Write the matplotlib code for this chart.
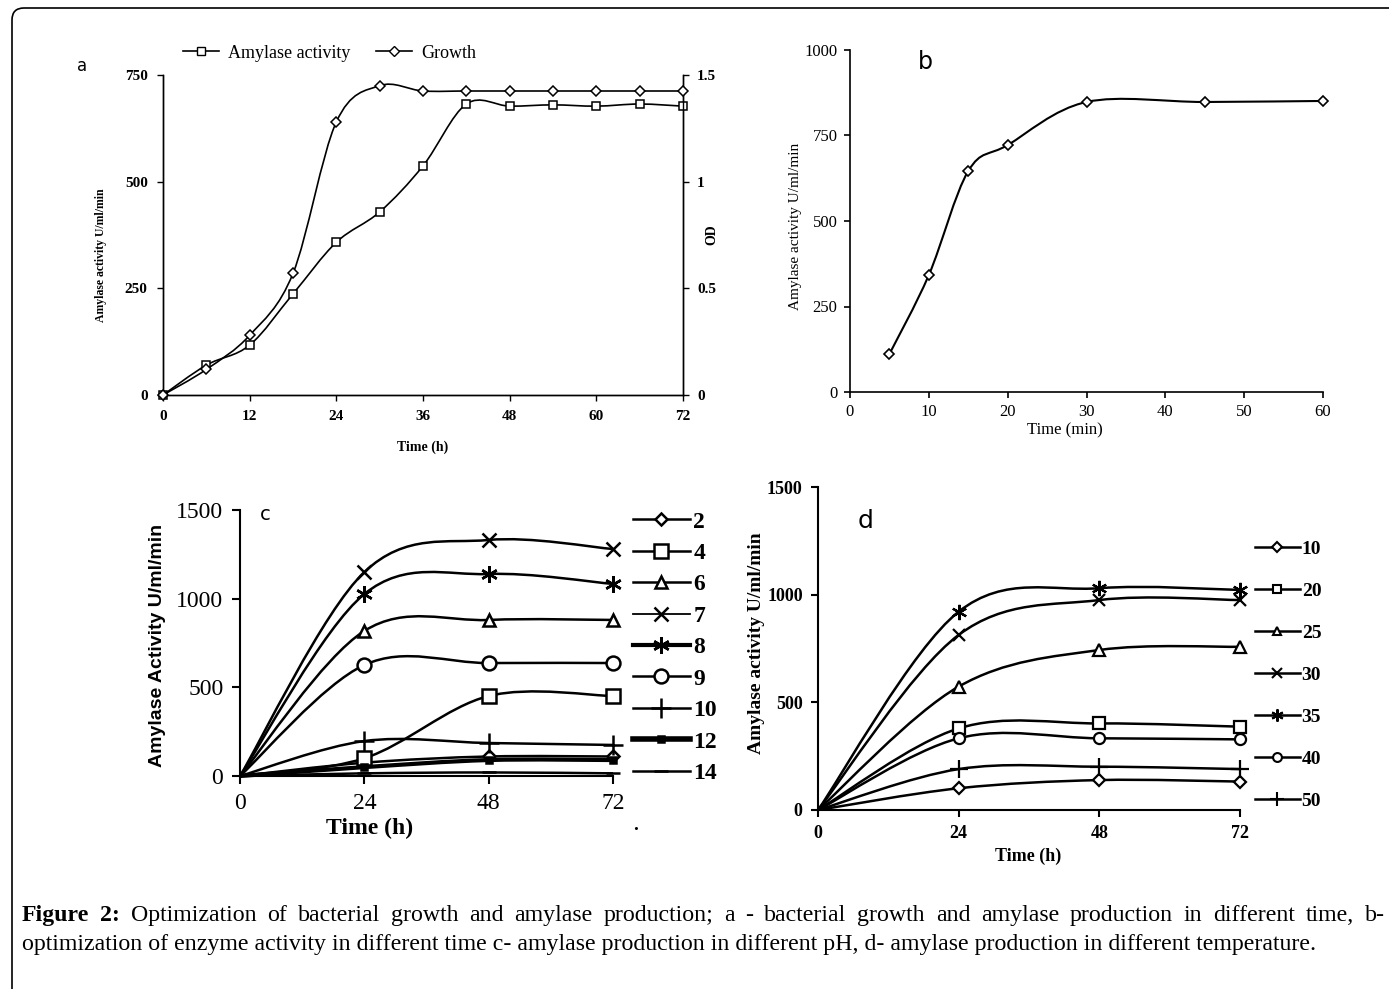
import numpy as np
import matplotlib
matplotlib.use("Agg")
import matplotlib.pyplot as plt
from matplotlib.path import Path
from matplotlib.patches import PathPatch, FancyBboxPatch
from matplotlib.transforms import IdentityTransform
from matplotlib.lines import Line2D

W, H = 1389, 989
SERIF = "Liberation Serif"
SANS = "DejaVu Sans"

# --- panel a: growth and amylase over time ---
t_a = [0, 6, 12, 18, 24, 30, 36, 42, 48, 54, 60, 66, 72]
amylase_a = [0, 70, 117, 237, 358, 429, 537, 682, 677, 680, 677, 682, 677]
growth_a = [0, 0.12, 0.28, 0.57, 1.28, 1.45, 1.425, 1.425, 1.425, 1.425, 1.425, 1.425, 1.425]

# --- panel b: enzyme activity vs time (min) ---
t_b = [5, 10, 15, 20, 30, 45, 60]
act_b = [111, 342, 646, 722, 848, 848, 851]

# --- panel c: pH ---
t_c = [0, 24, 48, 72]
ph2 = [0, 75, 110, 110]
ph4 = [0, 100, 451, 451]
ph6 = [0, 818, 880, 880]
ph7 = [0, 1150, 1331, 1280]
ph8 = [0, 1026, 1139, 1083]
ph9 = [0, 626, 637, 637]
ph10 = [0, 197, 186, 175]
ph12 = [0, 50, 90, 90]
ph14 = [0, 15, 20, 15]
ph_labels = ["2", "4", "6", "7", "8", "9", "10", "12", "14"]

# --- panel d: temperature ---
t_d = [0, 24, 48, 72]
temp10 = [0, 101, 139, 132]
temp20 = [0, 379, 402, 387]
temp25 = [0, 573, 743, 758]
temp30 = [0, 813, 975, 975]
temp35 = [0, 921, 1030, 1022]
temp40 = [0, 333, 333, 328]
temp50 = [0, 190, 201, 190]
temp_labels = ["10", "20", "25", "30", "35", "40", "50"]

caption1 = ("Figure 2: Optimization of bacterial growth and amylase production; a - bacterial "
            "growth and amylase production in different time, b-")
caption2 = ("optimization of enzyme activity in different time c- amylase production in "
            "different pH, d- amylase production in different temperature.")


def smooth(ax, x, y, lw=1.5):
    # excel-like smoothed line (bezier through the points)
    x = np.asarray(x, float)
    y = np.asarray(y, float)
    n = len(x)
    verts = [(x[0], y[0])]
    codes = [Path.MOVETO]
    for i in range(n - 1):
        xp, yp = (x[i - 1], y[i - 1]) if i > 0 else (x[i], y[i])
        xn, yn = (x[i + 2], y[i + 2]) if i + 2 < n else (x[i + 1], y[i + 1])
        c1 = (x[i] + (x[i + 1] - xp) / 6, y[i] + (y[i + 1] - yp) / 6)
        c2 = (x[i + 1] - (xn - x[i]) / 6, y[i + 1] - (yn - y[i]) / 6)
        verts += [c1, c2, (x[i + 1], y[i + 1])]
        codes += [Path.CURVE4] * 3
    p = PathPatch(Path(verts, codes), fill=False, lw=lw, ec="black", clip_on=False)
    ax.add_patch(p)


def ftext(x, y, s, **kw):
    return fig.text(x / W, 1 - y / H, s, **kw)


def axes_px(left, right, top, bottom):
    return fig.add_axes([left / W, 1 - bottom / H, (right - left) / W, (bottom - top) / H])


fig = plt.figure(figsize=(W / 100, H / 100), dpi=100)

# border
fig.patches.append(FancyBboxPatch((12, -20), 1420, 1001, boxstyle="round,pad=0,rounding_size=12",
                                  transform=IdentityTransform(), fc="none", ec="black", lw=1.2))

# ---------------- panel a ----------------
axa = axes_px(163, 683, 75, 395)
axa.set_xlim(0, 72)
axa.set_ylim(0, 750)
axa.set_xticks(range(0, 73, 12))
axa.set_yticks([0, 250, 500, 750])
axa.spines["top"].set_visible(False)
axa.tick_params(direction="out", length=4, width=1, pad=7)
for lab in axa.get_xticklabels() + axa.get_yticklabels():
    lab.set_fontfamily(SERIF)
    lab.set_fontweight("bold")
    lab.set_fontsize(11)
axa2 = axa.twinx()
axa2.set_ylim(0, 1.5)
axa2.set_yticks([0, 0.5, 1, 1.5])
axa2.set_yticklabels(["0", "0.5", "1", "1.5"])
axa2.spines["top"].set_visible(False)
axa2.tick_params(direction="out", length=4, width=1, pad=6)
for lab in axa2.get_yticklabels():
    lab.set_fontfamily(SERIF)
    lab.set_fontweight("bold")
    lab.set_fontsize(11)
for sp in list(axa.spines.values()) + list(axa2.spines.values()):
    sp.set_linewidth(1)

smooth(axa, t_a, amylase_a, lw=1.2)
axa.plot(t_a, amylase_a, ls="none", marker="s", ms=6, mfc="white", mec="black", mew=1.1, clip_on=False, zorder=5)
smooth(axa2, t_a, growth_a, lw=1.2)
axa2.plot(t_a, growth_a, ls="none", marker="D", ms=5, mfc="white", mec="black", mew=1.1, clip_on=False, zorder=5)

ha = [Line2D([], [], color="black", lw=1.2, marker="s", ms=6, mfc="white", mec="black"),
      Line2D([], [], color="black", lw=1.2, marker="D", ms=5, mfc="white", mec="black")]
axa.legend(ha, ["Amylase activity", "Growth"], ncol=2, loc="center left", frameon=False,
           bbox_to_anchor=(183 / W, 1 - 53 / H), bbox_transform=fig.transFigure,
           prop={"family": SERIF, "size": 13}, handlelength=2.0, handletextpad=0.5,
           columnspacing=1.4, borderpad=0, borderaxespad=0)

ftext(82, 66, "a", fontsize=12, family=SANS, ha="center", va="center")
ftext(101, 255, "Amylase activity U/ml/min", rotation=90, family=SERIF, weight="bold",
      fontsize=8.5, ha="center", va="center")
ftext(712, 235, "OD", rotation=90, family=SERIF, weight="bold", fontsize=10, ha="center", va="center")
ftext(423, 447, "Time (h)", family=SERIF, weight="bold", fontsize=10, ha="center", va="center")

# ---------------- panel b ----------------
axb = axes_px(850, 1323, 50, 392)
axb.set_xlim(0, 60)
axb.set_ylim(0, 1000)
axb.set_xticks(range(0, 61, 10))
axb.set_yticks([0, 250, 500, 750, 1000])
axb.spines["top"].set_visible(False)
axb.spines["right"].set_visible(False)
axb.tick_params(direction="out", length=4, width=1.2, pad=5)
for lab in axb.get_xticklabels() + axb.get_yticklabels():
    lab.set_fontfamily(SERIF)
    lab.set_fontsize(12)
for sp in axb.spines.values():
    sp.set_linewidth(1.2)
smooth(axb, t_b, act_b, lw=1.5)
axb.plot(t_b, act_b, ls="none", marker="D", ms=5, mfc="white", mec="black", mew=1.2, clip_on=False, zorder=5)
ftext(925, 62, "b", fontsize=17, family=SANS, ha="center", va="center")
ftext(795, 226, "Amylase activity U/ml/min", rotation=90, family=SERIF, fontsize=11,
      ha="center", va="center")
ftext(1065, 430, "Time (min)", family=SERIF, fontsize=12, ha="center", va="center")

# ---------------- panel c ----------------
axc = axes_px(240, 613, 510, 776)
axc.set_xlim(0, 72)
axc.set_ylim(0, 1500)
axc.set_xticks([0, 24, 48, 72])
axc.set_yticks([0, 500, 1000, 1500])
axc.spines["top"].set_visible(False)
axc.spines["right"].set_visible(False)
axc.tick_params(direction="out", length=6, width=1.5, pad=6)
for lab in axc.get_xticklabels() + axc.get_yticklabels():
    lab.set_fontfamily(SERIF)
    lab.set_fontsize(17)
for sp in axc.spines.values():
    sp.set_linewidth(1.5)

c_series = [ph2, ph4, ph6, ph7, ph8, ph9, ph10, ph12, ph14]
c_styles = [
    dict(marker="D", ms=6, lw=1.8, hlw=1.8),
    dict(marker="s", ms=10, lw=1.8, hlw=1.8),
    dict(marker="^", ms=9, lw=1.8, hlw=1.8),
    dict(marker="x", ms=10, lw=1.8, hlw=1.3),
    dict(marker=(6, 2, 0), ms=12, lw=1.8, hlw=3.0),
    dict(marker="o", ms=10, lw=1.8, hlw=1.8),
    dict(marker="+", ms=14, lw=1.8, hlw=1.8),
    dict(marker="s", ms=4, lw=3.0, hlw=4.0, mfc="black"),
    dict(marker="_", ms=10, lw=1.8, hlw=1.8),
]
c_handles = []
for ys, st in zip(c_series, c_styles):
    mfc = st.get("mfc", "white")
    smooth(axc, t_c, ys, lw=st["lw"])
    axc.plot(t_c, ys, ls="none", marker=st["marker"], ms=st["ms"], mfc=mfc, mec="black",
             mew=1.8, markevery=slice(1, None), clip_on=False, zorder=5)
    c_handles.append(Line2D([], [], color="black", lw=st["hlw"], marker=st["marker"], ms=st["ms"],
                            mfc=mfc, mec="black", mew=1.8))
axc.legend(c_handles, ph_labels, loc="upper left", frameon=False,
           bbox_to_anchor=(633 / W, 1 - 511 / H), bbox_transform=fig.transFigure,
           prop={"family": SERIF, "size": 17, "weight": "bold"}, handlelength=2.4,
           handletextpad=0.15, labelspacing=0.42, borderpad=0, borderaxespad=0)

ftext(265, 515, "c", fontsize=14, family=SANS, ha="center", va="center")
ftext(158, 645, "Amylase Activity U/ml/min", rotation=90, family="Liberation Sans",
      weight="bold", fontsize=14, ha="center", va="center")
ftext(370, 828, "Time (h)", family=SERIF, weight="bold", fontsize=17, ha="center", va="center")
ftext(636, 826, ".", family=SERIF, weight="bold", fontsize=14, ha="center", va="center")

# ---------------- panel d ----------------
axd = axes_px(818, 1240, 487, 810)
axd.set_xlim(0, 72)
axd.set_ylim(0, 1500)
axd.set_xticks([0, 24, 48, 72])
axd.set_yticks([0, 500, 1000, 1500])
axd.spines["top"].set_visible(False)
axd.spines["right"].set_visible(False)
axd.tick_params(direction="out", length=5, width=1.5, pad=6)
for lab in axd.get_xticklabels() + axd.get_yticklabels():
    lab.set_fontfamily(SERIF)
    lab.set_fontsize(13)
    lab.set_fontweight("bold")
for sp in axd.spines.values():
    sp.set_linewidth(1.5)

d_series = [temp10, temp20, temp25, temp30, temp35, temp40, temp50]
d_styles = [
    dict(marker="D", ms=6),
    dict(marker="s", ms=8),
    dict(marker="^", ms=8),
    dict(marker="x", ms=9),
    dict(marker=(6, 2, 0), ms=11),
    dict(marker="o", ms=8),
    dict(marker="+", ms=13),
]
d_handles = []
for ys, st in zip(d_series, d_styles):
    smooth(axd, t_d, ys, lw=1.8)
    axd.plot(t_d, ys, ls="none", marker=st["marker"], ms=st["ms"], mfc="white", mec="black",
             mew=1.6, markevery=slice(1, None), clip_on=False, zorder=5)
    d_handles.append(Line2D([], [], color="black", lw=1.8, marker=st["marker"], ms=st["ms"] * 0.8,
                            mfc="white", mec="black", mew=1.5))
axd.legend(d_handles, temp_labels, loc="upper left", frameon=False,
           bbox_to_anchor=(1255 / W, 1 - 540 / H), bbox_transform=fig.transFigure,
           prop={"family": SERIF, "size": 14, "weight": "bold"}, handlelength=2.3,
           handletextpad=0.1, labelspacing=1.26, borderpad=0, borderaxespad=0)

ftext(866, 521, "d", fontsize=18, family=SANS, ha="center", va="center")
ftext(757, 643, "Amylase activity U/ml/min", rotation=90, family=SERIF, weight="bold",
      fontsize=14, ha="center", va="center")
ftext(1028, 856, "Time (h)", family=SERIF, weight="bold", fontsize=13, ha="center", va="center")

# ---------------- caption ----------------
cap_size = 17.2
words = caption1.split(" ")
objs = []
for i, w in enumerate(words):
    objs.append(ftext(0, 921, w, family=SERIF, fontsize=cap_size,
                      weight="bold" if i < 2 else "normal", ha="left", va="baseline"))
renderer = fig.canvas.get_renderer()
widths = [o.get_window_extent(renderer).width for o in objs]
gap = (1385 - 22 - sum(widths)) / (len(objs) - 1)
x = 22
for o, w in zip(objs, widths):
    o.set_x(x / W)
    x += w + gap
ftext(22, 950, caption2, family=SERIF, fontsize=cap_size, ha="left", va="baseline")

fig.savefig("out.png", dpi=100)
